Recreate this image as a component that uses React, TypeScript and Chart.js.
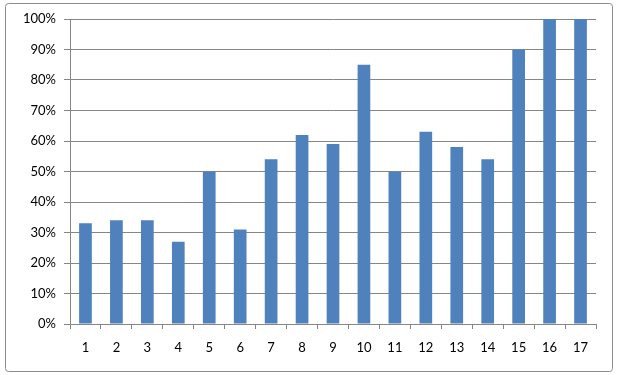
import React, { useEffect, useRef } from "react";
import { Chart, registerables } from "chart.js";

Chart.register(...registerables);

const categories = ["1", "2", "3", "4", "5", "6", "7", "8", "9", "10", "11", "12", "13", "14", "15", "16", "17"];
const values = [33, 34, 34, 27, 50, 31, 54, 62, 59, 85, 50, 63, 58, 54, 90, 100, 100];

const borderPlugin = {
  id: "outerBorder",
  beforeDraw(chart: any) {
    const ctx = chart.ctx;
    ctx.save();
    ctx.fillStyle = "#ffffff";
    ctx.fillRect(0, 0, chart.width, chart.height);
    ctx.strokeStyle = "#8c8c8c";
    ctx.lineWidth = 1;
    ctx.beginPath();
    const x = 5.5, y = 3.5, w = 607, h = 368, r = 3;
    ctx.moveTo(x + r, y);
    ctx.lineTo(x + w - r, y);
    ctx.arcTo(x + w, y, x + w, y + r, r);
    ctx.lineTo(x + w, y + h - r);
    ctx.arcTo(x + w, y + h, x + w - r, y + h, r);
    ctx.lineTo(x + r, y + h);
    ctx.arcTo(x, y + h, x, y + h - r, r);
    ctx.lineTo(x, y + r);
    ctx.arcTo(x, y, x + r, y, r);
    ctx.closePath();
    ctx.stroke();
    ctx.restore();
  },
};

export default function App() {
  const ref = useRef<HTMLCanvasElement>(null);
  useEffect(() => {
    if (!ref.current) return;
    const chart = new Chart(ref.current, {
      type: "bar",
      data: {
        labels: categories,
        datasets: [
          {
            data: values,
            backgroundColor: "#4F81BD",
            borderWidth: 0,
            barPercentage: 0.41,
            categoryPercentage: 1,
          },
        ],
      },
      options: {
        responsive: false,
        animation: false,
        maintainAspectRatio: false,
        layout: { padding: { left: 0, top: 19, right: 22, bottom: 0 } },
        plugins: { legend: { display: false }, tooltip: { enabled: false } },
        scales: {
          x: {
            offset: true,
            grid: {
              offset: true,
              drawOnChartArea: false,
              drawTicks: true,
              tickLength: 5,
              color: "#868686",
            },
            border: { color: "#868686" },
            ticks: {
              color: "#000000",
              font: { family: "Lato", size: 13 },
              padding: 11,
              maxRotation: 0,
              autoSkip: false,
            },
            afterFit(scale: any) {
              scale.height = 51;
            },
          },
          y: {
            min: 0,
            max: 100,
            grid: { color: "#868686", tickLength: 6 },
            border: { color: "#868686" },
            ticks: {
              stepSize: 10,
              color: "#000000",
              font: { family: "Lato", size: 13 },
              padding: 8,
              callback: (v: any) => v + "%",
            },
            afterFit(scale: any) {
              scale.width = 70;
            },
          },
        },
      },
      plugins: [borderPlugin],
    });
    return () => chart.destroy();
  }, []);
  return (
    <div style={{ position: "absolute", left: 0, top: 0, width: 618, height: 375 }}>
      <canvas ref={ref} width={618} height={375} style={{ display: "block" }} />
    </div>
  );
}
